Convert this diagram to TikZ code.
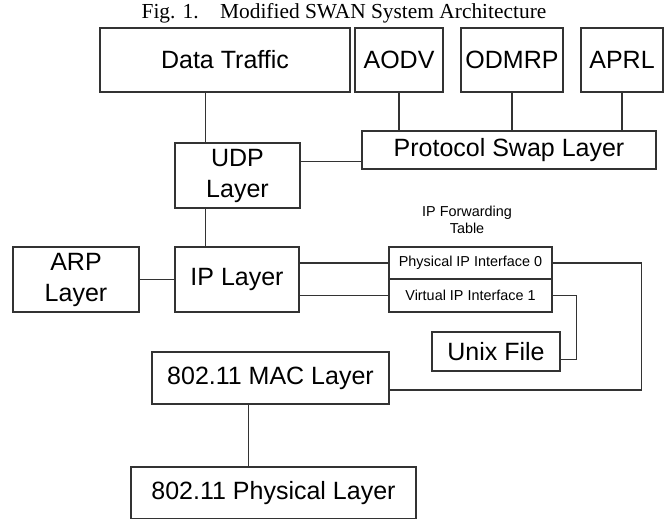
\documentclass[tikz,border=0pt]{standalone}
\usepackage{fontspec}
\setmainfont{Liberation Serif}
\setsansfont{Liberation Sans}
\tikzset{
  layer/.style={draw=black!80, line width=0.6pt, inner sep=0pt,
    font=\sffamily\fontsize{12.5}{15.5}\selectfont},
  entry/.style={layer, font=\sffamily\fontsize{7.2}{8.6}\selectfont},
  wire/.style={draw=black!80, line width=0.6pt}
}
\begin{document}
\begin{tikzpicture}[x=0.5pt, y=-0.5pt]
        \useasboundingbox (0,0) rectangle (667,518);

        \node at (344,13) {\fontsize{10.7}{12}\selectfont Fig. 1.\quad Modified SWAN System Architecture};

        % top row
        \node[layer, minimum width=125pt, minimum height=32pt] (data) at (225,60) {Data Traffic};
        \node[layer, minimum width=44pt, minimum height=32pt] (aodv) at (399,60) {AODV};
        \node[layer, minimum width=51pt, minimum height=32pt] (odmrp) at (512,60) {ODMRP};
        \node[layer, minimum width=41pt, minimum height=32pt] (aprl) at (622,60) {APRL};
        \node[layer, minimum width=147pt, minimum height=19pt] (swap) at (509,150) {Protocol Swap Layer};

        % stack
        \node[layer, align=center, minimum width=62.5pt, minimum height=32.5pt] (udp) at (237.5,175.5) {UDP\\Layer};
        \node[layer, align=center, minimum width=63pt, minimum height=32.5pt] (arp) at (76,279.5) {ARP\\Layer};
        \node[layer, minimum width=62pt, minimum height=32.5pt] (ip) at (237,279.5) {IP Layer};
        \node[layer, minimum width=118.5pt, minimum height=26pt] (mac) at (270.5,378) {802.11 MAC Layer};
        \node[layer, minimum width=142.5pt, minimum height=26pt] (phy) at (273.5,493) {802.11 Physical Layer};

        % forwarding table
        \node[align=center, font=\sffamily\fontsize{7.2}{8.6}\selectfont] (fwd) at (467,220) {IP Forwarding\\Table};
        \node[entry, minimum width=81.5pt, minimum height=16pt] (if0) at (470.5,263) {Physical IP Interface 0};
        \node[entry, minimum width=81.5pt, minimum height=16.5pt] (if1) at (470.5,295.5) {Virtual IP Interface 1};
        \node[layer, minimum width=64pt, minimum height=19.5pt] (unix) at (496,351.5) {Unix File};

        % links
        \draw[wire] ([xshift=-16pt]udp.north) -- ([xshift=-16pt]udp.north |- data.south);
        \draw[wire] (aodv.south) -- (aodv.south |- swap.north);
        \draw[wire] (odmrp.south) -- (odmrp.south |- swap.north);
        \draw[wire] (aprl.south) -- (aprl.south |- swap.north);
        \draw[wire] ([yshift=7pt]udp.east) -- ([yshift=7pt]udp.east -| swap.west);
        \draw[wire] ([xshift=-16pt]udp.south) -- ([xshift=-16pt]udp.south |- ip.north);
        \draw[wire] (arp.east) -- (ip.west);
        \draw[wire] (ip.east |- if0.west) -- (if0.west);
        \draw[wire] (ip.east |- if1.west) -- (if1.west);
        \draw[wire] (if0.east) -- ++(44.5pt,0) |- ([yshift=-6pt]mac.east);
        \draw[wire] (if1.east) -- ++(12pt,0) |- ([yshift=-4pt]unix.east);
        \draw[wire] ([xshift=-11pt]mac.south) -- ([xshift=-11pt]mac.south |- phy.north);
  \end{tikzpicture}
\end{document}
